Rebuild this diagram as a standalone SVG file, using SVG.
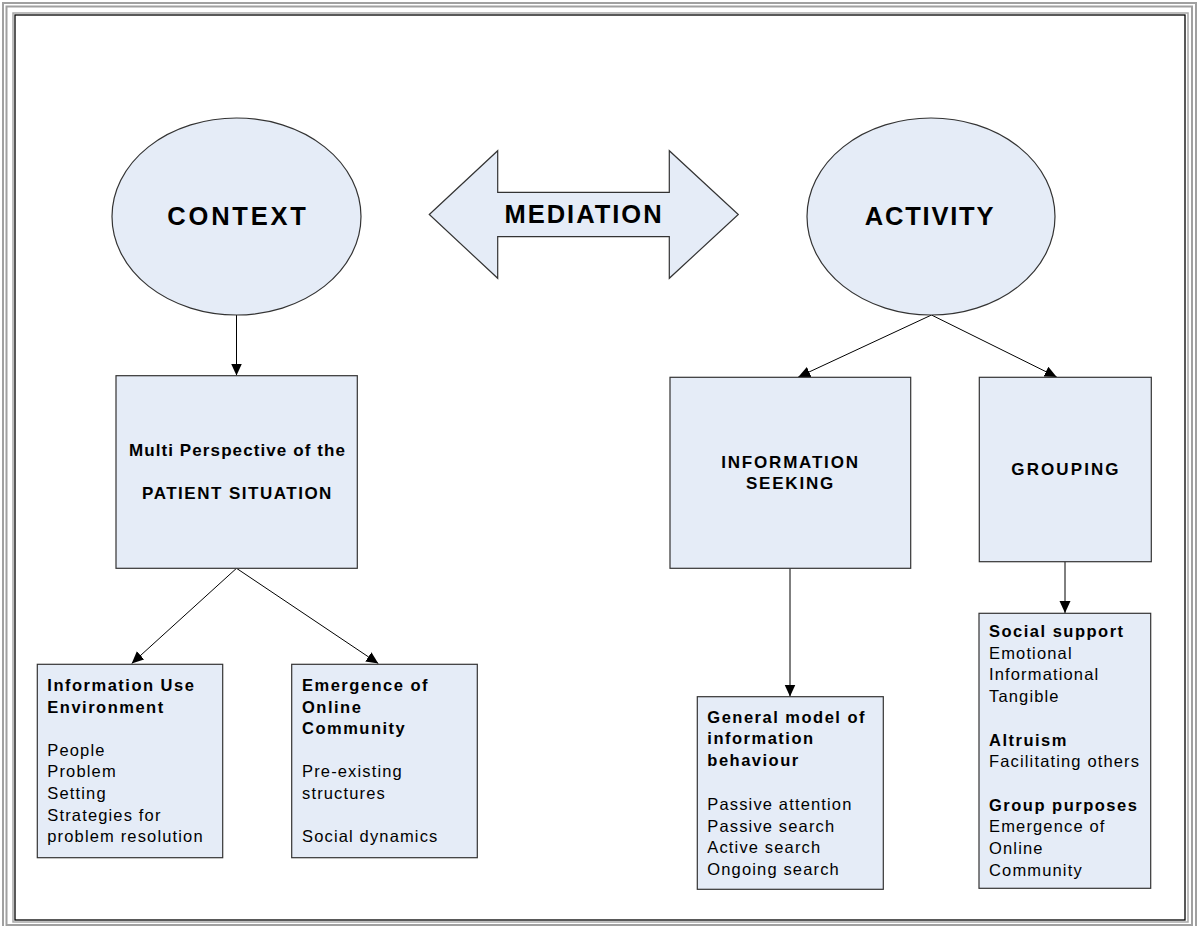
<svg xmlns="http://www.w3.org/2000/svg" width="1197" height="926" viewBox="0 0 1197 926">
<defs>
<style>
text { font-family: "Liberation Sans", Arial, sans-serif; fill: #000; }
.big { font-size: 25.5px; font-weight: bold; letter-spacing: 2.3px; text-anchor: middle; }
.cap { font-size: 17px; font-weight: bold; letter-spacing: 1.8px; text-anchor: middle; }
.h { font-size: 16.5px; font-weight: bold; letter-spacing: 1.5px; }
.t { font-size: 16.5px; letter-spacing: 1.15px; }
.shape { fill: #e5ecf7; stroke: #333; stroke-width: 1.2; }
.conn { stroke: #000; stroke-width: 1; fill: none; marker-end: url(#ah); }
</style>
<marker id="ah" markerUnits="userSpaceOnUse" markerWidth="13" markerHeight="12" refX="12" refY="5.5" orient="auto">
<path d="M0,0 L12,5.5 L0,11 z" fill="#000"/>
</marker>
</defs>
<rect x="0" y="0" width="1197" height="926" fill="#fff"/>
<g id="frame" fill="none">
<rect x="3" y="3" width="1193" height="930" stroke="#a0a0a0" stroke-width="2"/>
<rect x="6.5" y="6.5" width="1185.5" height="918.5" stroke="#a0a0a0" stroke-width="2"/>
<rect x="13" y="13" width="1175" height="909" stroke="#a8a8a8" stroke-width="1.5"/>
<rect x="15" y="15" width="1170" height="905" stroke="#000" stroke-width="1.3"/>
</g>
<g id="connectors">
<line class="conn" x1="236.5" y1="315" x2="236.5" y2="375.5"/>
<line class="conn" x1="236.5" y1="568.3" x2="131.7" y2="663.5"/>
<line class="conn" x1="236.5" y1="568.3" x2="378.3" y2="663.5"/>
<line class="conn" x1="931.5" y1="315" x2="798.3" y2="377"/>
<line class="conn" x1="931.5" y1="315" x2="1056.7" y2="377"/>
<line class="conn" x1="790" y1="568.3" x2="790" y2="696.5"/>
<line class="conn" x1="1065" y1="561.7" x2="1065" y2="613"/>
</g>
<g id="context">
<ellipse class="shape" cx="236.5" cy="216.5" rx="124.5" ry="98.5"/>
<text class="big" x="238" y="225" style="letter-spacing:2.8px">CONTEXT</text>
</g>
<g id="mediation">
<path class="shape" d="M429.3,214.5 L497.7,150.7 L497.7,192.3 L669.3,192.3 L669.3,150.7 L738.3,214.5 L669.3,278.3 L669.3,236.7 L497.7,236.7 L497.7,278.3 Z"/>
<text class="big" x="584" y="222.7" style="letter-spacing:2px">MEDIATION</text>
</g>
<g id="activity">
<ellipse class="shape" cx="931" cy="216.5" rx="124" ry="98.5"/>
<text class="big" x="930" y="225" style="letter-spacing:1.8px">ACTIVITY</text>
</g>
<g id="patient-situation">
<rect class="shape" x="116" y="375.7" width="241.3" height="192.6"/>
<text class="cap" x="237.5" y="456" style="letter-spacing:1.1px">Multi Perspective of the</text>
<text class="cap" x="237.5" y="499" style="letter-spacing:1.5px">PATIENT SITUATION</text>
</g>
<g id="information-seeking">
<rect class="shape" x="670" y="377.3" width="240.7" height="191"/>
<text class="cap" x="790.5" y="467.7">INFORMATION</text>
<text class="cap" x="790.5" y="489">SEEKING</text>
</g>
<g id="grouping">
<rect class="shape" x="979.3" y="377.3" width="172" height="184.4"/>
<text class="cap" x="1066" y="475" style="letter-spacing:2.1px">GROUPING</text>
</g>
<g id="information-use-environment">
<rect class="shape" x="37.3" y="664.3" width="185.4" height="193.4"/>
<text class="h" x="47.3" y="691">Information Use</text>
<text class="h" x="47.3" y="712.5">Environment</text>
<text class="t" x="47.3" y="755.7">People</text>
<text class="t" x="47.3" y="777.3">Problem</text>
<text class="t" x="47.3" y="799">Setting</text>
<text class="t" x="47.3" y="820.7">Strategies for</text>
<text class="t" x="47.3" y="842.3">problem resolution</text>
</g>
<g id="online-community">
<rect class="shape" x="291.7" y="664.3" width="185.6" height="193.4"/>
<text class="h" x="302" y="691">Emergence of</text>
<text class="h" x="302" y="712.5">Online</text>
<text class="h" x="302" y="734">Community</text>
<text class="t" x="302" y="777.3">Pre-existing</text>
<text class="t" x="302" y="799">structures</text>
<text class="t" x="302" y="842.3">Social dynamics</text>
</g>
<g id="general-model">
<rect class="shape" x="697.3" y="696.7" width="186" height="192.6"/>
<text class="h" x="707.3" y="723.3">General model of</text>
<text class="h" x="707.3" y="744">information</text>
<text class="h" x="707.3" y="765.7">behaviour</text>
<text class="t" x="707.3" y="810">Passive attention</text>
<text class="t" x="707.3" y="831.7">Passive search</text>
<text class="t" x="707.3" y="853.3">Active search</text>
<text class="t" x="707.3" y="875">Ongoing search</text>
</g>
<g id="social-support">
<rect class="shape" x="979" y="613.3" width="171.7" height="275"/>
<text class="h" x="989" y="636.7">Social support</text>
<text class="t" x="989" y="659">Emotional</text>
<text class="t" x="989" y="680">Informational</text>
<text class="t" x="989" y="701.7">Tangible</text>
<text class="h" x="989" y="745.7">Altruism</text>
<text class="t" x="989" y="766.7">Facilitating others</text>
<text class="h" x="989" y="810.7">Group purposes</text>
<text class="t" x="989" y="832.3">Emergence of</text>
<text class="t" x="989" y="854">Online</text>
<text class="t" x="989" y="875.7">Community</text>
</g>
</svg>
